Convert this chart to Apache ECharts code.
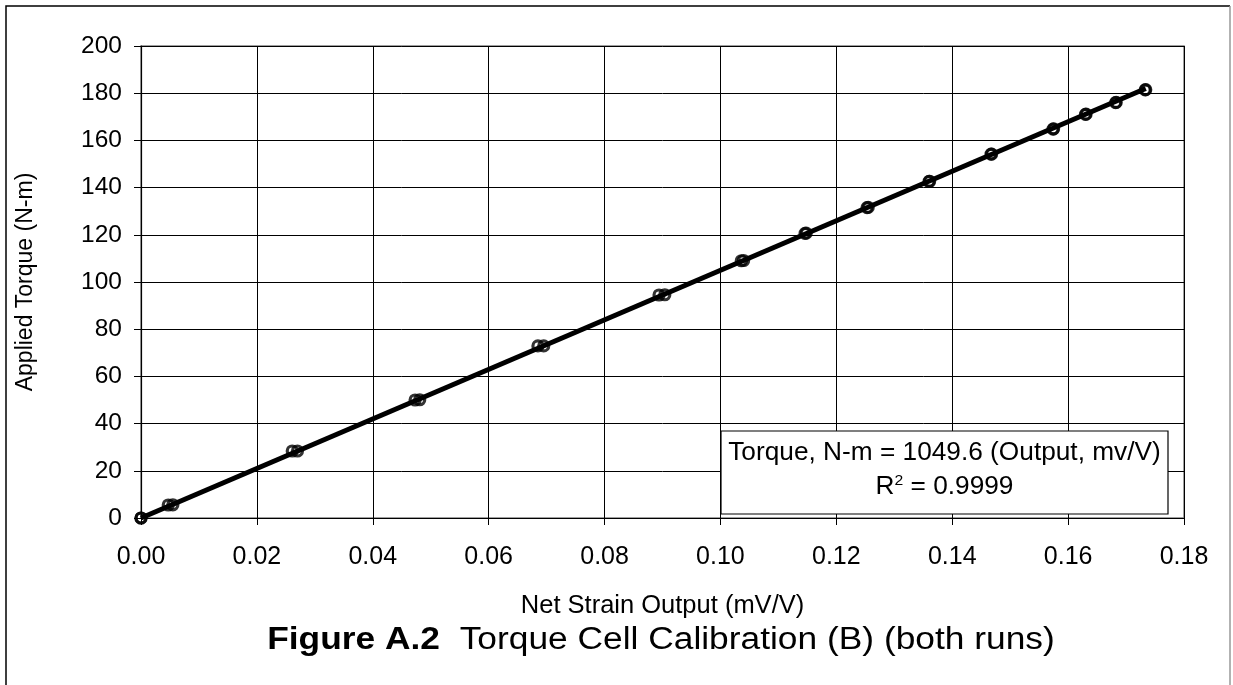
<!DOCTYPE html>
<html>
<head>
<meta charset="utf-8">
<script src="https://cdn.jsdelivr.net/npm/echarts@6/dist/echarts.min.js"></script>
<style>html,body{margin:0;padding:0;background:#fff;}#c{width:1233px;height:685px;}</style>
</head>
<body>
<div id="c"></div>
<script>
// Data
const run1X = [0, 0.0047, 0.0261, 0.0473, 0.0685, 0.0894, 0.1036, 0.1146, 0.1253, 0.1360, 0.1467, 0.1574, 0.1630, 0.1682, 0.1733];
const run1Y = [0, 5.5, 28.4, 50.0, 72.9, 94.5, 109.0, 120.6, 131.5, 142.6, 154.2, 164.8, 171.0, 176.0, 181.4];
const run2X = [0, 0.0055, 0.0270, 0.0481, 0.0695, 0.0904, 0.1040, 0.1148, 0.1255, 0.1361, 0.1468, 0.1575, 0.1631, 0.1683, 0.1734];
const run2Y = [0, 5.6, 28.4, 50.1, 72.9, 94.6, 109.1, 120.7, 131.6, 142.7, 154.2, 164.9, 171.1, 176.1, 181.5];
const trendSlope = 1049.6;              // Torque = 1049.6 * Output
const trendRangeX = [0, 0.1734];
const xTicks = ['0.00','0.02','0.04','0.06','0.08','0.10','0.12','0.14','0.16','0.18'];
const yTicks = [0,20,40,60,80,100,120,140,160,180,200];
const xTitle = 'Net Strain Output (mV/V)';
const yTitle = 'Applied Torque (N-m)';
const eqLine1 = 'Torque, N-m = 1049.6 (Output, mv/V)';
const eqLine2 = '0.9999';
const captionBold = 'Figure A.2';
const captionRest = 'Torque Cell Calibration (B) (both runs)';

const FONT = '"Liberation Sans", Arial, sans-serif';
const pts = (xs, ys) => xs.map((x, i) => [x, ys[i]]);
const trend = trendRangeX.map(x => [x, x * trendSlope]);

const markerStyle = {color: 'rgba(0,0,0,0)', borderColor: '#000', borderWidth: 3.2};

const chart = echarts.init(document.getElementById('c'), null, {renderer: 'canvas'});
chart.setOption({
  backgroundColor: '#fff',
  animation: false,
  textStyle: {fontFamily: FONT, color: '#000'},
  grid: {left: 141, right: 49, top: 46, bottom: 167, show: true, borderColor: '#808080', borderWidth: 1.5, backgroundColor: 'transparent'},
  xAxis: {
    type: 'value', min: 0, max: 0.18, interval: 0.02,
    name: xTitle, nameLocation: 'middle', nameGap: 75,
    nameTextStyle: {fontSize: 25.5, color: '#000', fontFamily: FONT},
    axisLine: {onZero: false, lineStyle: {color: '#000', width: 1.2}},
    axisTick: {show: true, inside: false, length: 7, lineStyle: {color: '#000'}},
    axisLabel: {fontSize: 25, color: '#000', margin: 27, fontFamily: FONT,
      formatter: v => xTicks[Math.round(v / 0.02)] ?? ''},
    splitLine: {show: true, lineStyle: {color: '#000', width: 1}}
  },
  yAxis: {
    type: 'value', min: 0, max: 200, interval: 20,
    name: yTitle, nameLocation: 'middle', nameGap: 104, nameRotate: 90,
    nameTextStyle: {fontSize: 23, color: '#000', fontFamily: FONT},
    axisLine: {onZero: false, lineStyle: {color: '#000', width: 1.2}},
    axisTick: {show: true, inside: false, length: 7, lineStyle: {color: '#000'}},
    axisLabel: {fontSize: 24.5, color: '#000', margin: 19, fontFamily: FONT,
      formatter: v => String(yTicks[Math.round(v / 20)] ?? '')},
    splitLine: {show: true, lineStyle: {color: '#000', width: 1}}
  },
  series: [
    {type: 'line', data: trend, symbol: 'none', lineStyle: {color: '#000', width: 5}, z: 2, silent: true},
    {type: 'scatter', data: pts(run1X, run1Y), symbol: 'circle', symbolSize: 10, itemStyle: markerStyle, z: 3},
    {type: 'scatter', data: pts(run2X, run2Y), symbol: 'circle', symbolSize: 10, itemStyle: markerStyle, z: 3}
  ],
  graphic: [
    {type: 'polyline', shape: {points: [[6, 690], [6, 6], [1230, 6]]}, style: {stroke: '#000', lineWidth: 1.5, fill: null}, z: 10},
    {type: 'line', shape: {x1: 1230, y1: 6, x2: 1230, y2: 690}, style: {stroke: '#999', lineWidth: 1.5}, z: 10},
    {type: 'rect', shape: {x: 721, y: 431, width: 447, height: 83}, style: {fill: '#fff', stroke: '#000', lineWidth: 1.2}, z: 20},
    {type: 'text', x: 944.5, y: 453, scaleX: 1.05, style: {text: eqLine1, font: '25px ' + FONT, fill: '#000', align: 'center', verticalAlign: 'middle'}, z: 21},
    {type: 'text', x: 944.5, y: 487, scaleX: 1.05, style: {
      text: '{r|R}{sup|2}{r| = ' + eqLine2 + '}',
      align: 'center', verticalAlign: 'middle', fill: '#000',
      rich: {r: {fontSize: 25, fontFamily: FONT, fill: '#000'}, sup: {fontSize: 15, fontFamily: FONT, fill: '#000', verticalAlign: 'top', padding: [0, 0, 12, 0]}}
    }, z: 21},
    {type: 'text', x: 661, y: 640, scaleX: 1.14, style: {
      text: '{b|' + captionBold + '}{n|  ' + captionRest + '}',
      align: 'center', verticalAlign: 'middle', fill: '#000',
      rich: {b: {fontSize: 31, fontWeight: 'bold', fontFamily: FONT, fill: '#000'}, n: {fontSize: 31, fontFamily: FONT, fill: '#000'}}
    }, z: 21}
  ]
});
</script>
</body>
</html>
